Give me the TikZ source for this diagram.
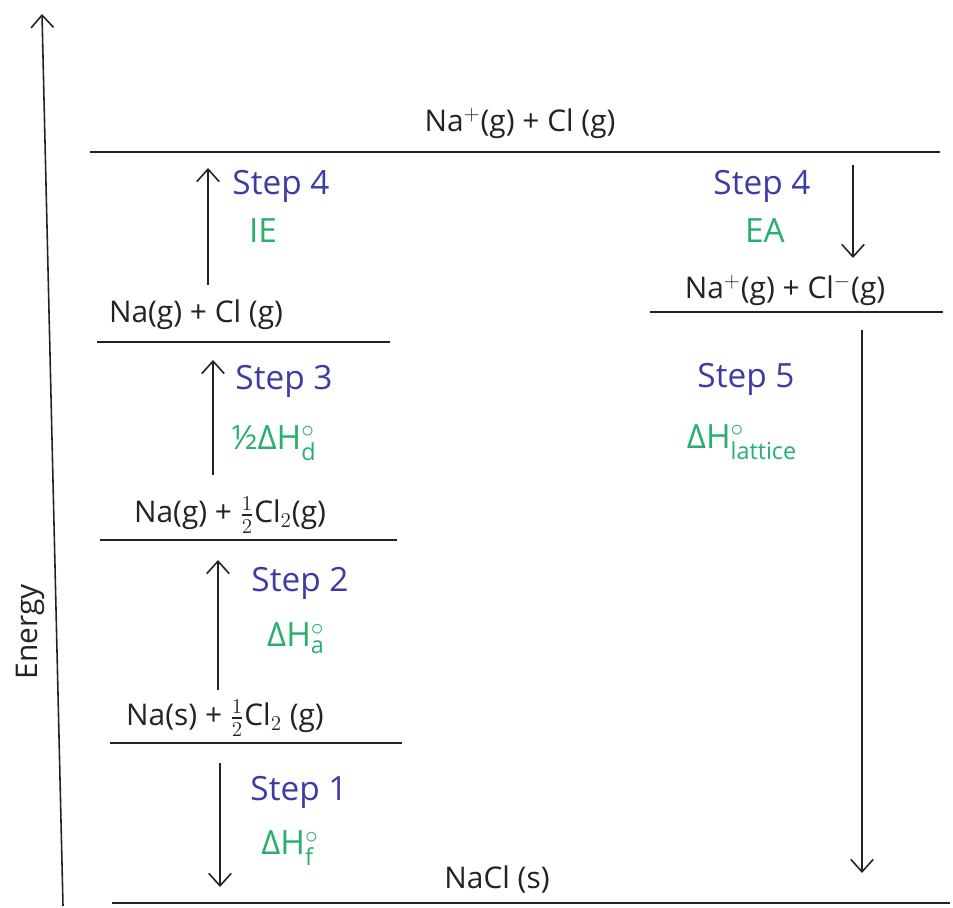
\documentclass[tikz,border=0pt]{standalone}
\usepackage{fontspec}
\usepackage{amsmath}
\setmainfont{Open Sans}
\usetikzlibrary{arrows.meta}
\definecolor{stepblue}{RGB}{60,60,165}
\definecolor{dhgreen}{RGB}{40,175,110}
\definecolor{ink}{RGB}{35,35,35}
\begin{document}
\begin{tikzpicture}[x=0.02cm,y=-0.02cm,
  level/.style={line width=1.3pt, draw=ink},
  lvltext/.style={font=\fontsize{17}{20}\selectfont, text=ink, inner sep=0pt},
  steptext/.style={font=\fontsize{19}{22}\selectfont, text=stepblue, inner sep=0pt},
  dhtext/.style={font=\fontsize{19}{22}\selectfont, text=dhgreen, inner sep=0pt},
  conn/.style={line width=0.9pt, draw=ink, -{Straight Barb[length=2.5mm,width=4.5mm]}}]
\useasboundingbox (0,0) rectangle (953,908);
\fill[white] (0,0) rectangle (953,908);
% axis
\coordinate (axb) at (63,906);
\coordinate (axt) at (42,14);
\draw[conn] (axb) -- (axt);
\node[lvltext, rotate=90] (energy) at (30,632) {Energy};
% levels
\coordinate (l0a) at (90,152);  \coordinate (l0b) at (940,152);
\coordinate (l1a) at (97,342);  \coordinate (l1b) at (390,342);
\coordinate (l2a) at (100,540); \coordinate (l2b) at (397,540);
\coordinate (l3a) at (110,743); \coordinate (l3b) at (402,743);
\coordinate (l4a) at (112,903); \coordinate (l4b) at (950,903);
\coordinate (l5a) at (650,312); \coordinate (l5b) at (943,312);
\draw[level] (l0a) -- (l0b);
\draw[level] (l1a) -- (l1b);
\draw[level] (l2a) -- (l2b);
\draw[level] (l3a) -- (l3b);
\draw[level] (l4a) -- (l4b);
\draw[level] (l5a) -- (l5b);
% level labels
\node[lvltext] (t0) at (520,124) {Na$^+$(g) + Cl (g)};
\node[lvltext] (t1) at (196,315) {Na(g) + Cl (g)};
\node[lvltext] (t2) at (230,515) {Na(g) + $\tfrac{1}{2}$Cl$_2$(g)};
\node[lvltext] (t3) at (225,718) {Na(s) + $\tfrac{1}{2}$Cl$_2$ (g)};
\node[lvltext] (t4) at (497,880) {NaCl (s)};
\node[lvltext] (t5) at (785,290) {Na$^+$(g) + Cl$^-$(g)};
% arrows
\coordinate (a4s) at (208,285); \coordinate (a4e) at (208,168);
\coordinate (b4s) at (853,165); \coordinate (b4e) at (853,258);
\coordinate (a3s) at (213,475); \coordinate (a3e) at (213,360);
\coordinate (a2s) at (218,690); \coordinate (a2e) at (218,560);
\coordinate (a1s) at (220,763); \coordinate (a1e) at (220,887);
\coordinate (a5s) at (862,330); \coordinate (a5e) at (862,873);
\draw[conn] (a4s) -- (a4e);
\draw[conn] (b4s) -- (b4e);
\draw[conn] (a3s) -- (a3e);
\draw[conn] (a2s) -- (a2e);
\draw[conn] (a1s) -- (a1e);
\draw[conn] (a5s) -- (a5e);
% step labels
\node[steptext] (s4l) at (281,186) {Step 4};
\node[dhtext]   (d4l) at (263,231) {IE};
\node[steptext] (s4r) at (762,186) {Step 4};
\node[dhtext]   (d4r) at (765,231) {EA};
\node[steptext] (s3)  at (284,381) {Step 3};
\node[dhtext]   (d3)  at (274,443) {½ΔH$^\circ_{\text{d}}$};
\node[steptext] (s5)  at (746,379) {Step 5};
\node[dhtext]   (d5)  at (742,442) {ΔH$^\circ_{\text{lattice}}$};
\node[steptext] (s2)  at (300,583) {Step 2};
\node[dhtext]   (d2)  at (296,638) {ΔH$^\circ_{\text{a}}$};
\node[steptext] (s1)  at (299,792) {Step 1};
\node[dhtext]   (d1)  at (290,848) {ΔH$^\circ_{\text{f}}$};
\end{tikzpicture}
\end{document}
